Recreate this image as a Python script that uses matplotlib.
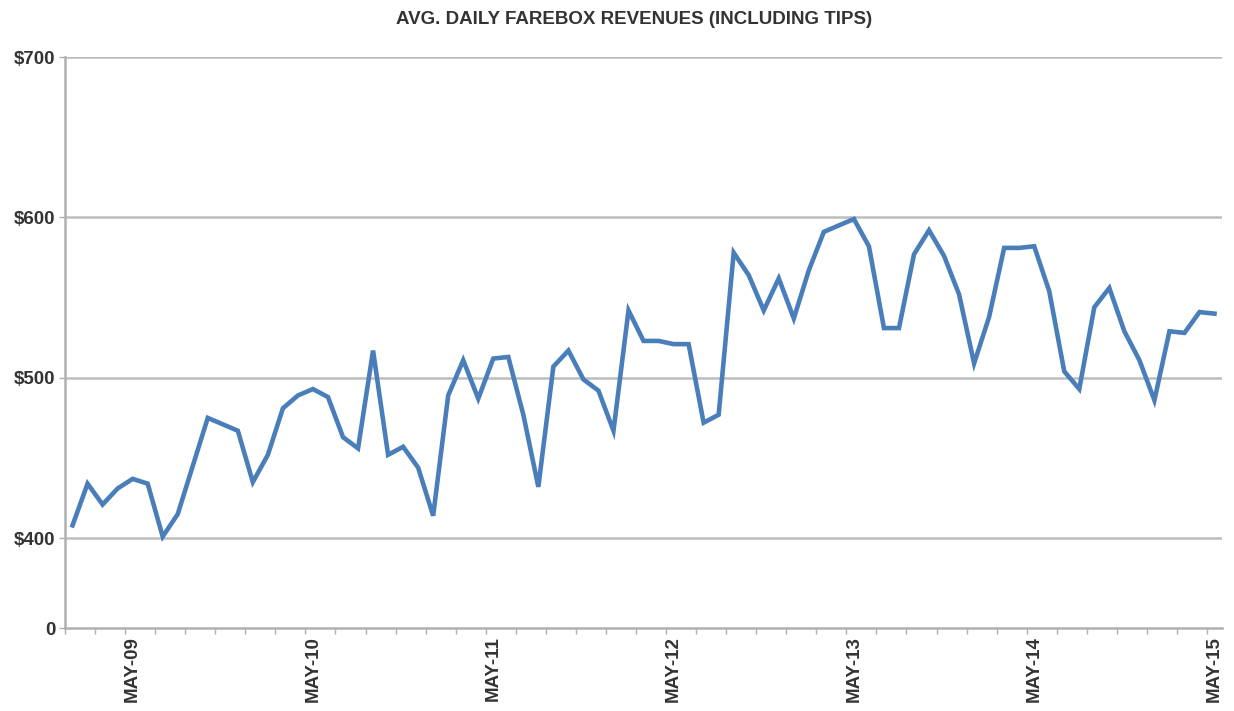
import matplotlib.pyplot as plt
import numpy as np

# monthly avg daily farebox revenue, Jan-09 .. May-15
revenue = [408, 434, 421, 431, 437, 434, 401, 415, 445, 475, 471, 467,
           435, 452, 481, 489, 493, 488, 463, 456, 517, 452, 457, 444,
           414, 489, 511, 487, 512, 513, 477, 432, 507, 517, 499, 492,
           467, 542, 523, 523, 521, 521, 472, 477, 578, 564, 542, 562,
           537, 567, 591, 595, 599, 582, 531, 531, 577, 592, 576, 552,
           509, 538, 581, 581, 582, 554, 504, 493, 544, 556, 529, 511,
           486, 529, 528, 541, 540]
year_labels = ['MAY-09', 'MAY-10', 'MAY-11', 'MAY-12', 'MAY-13', 'MAY-14', 'MAY-15']
ytick_vals = [344, 400, 500, 600, 700]
ytick_labels = ['0', '$400', '$500', '$600', '$700']

plt.rcParams['font.family'] = ['Liberation Sans', 'DejaVu Sans']

fig = plt.figure(figsize=(12.34, 7.11), dpi=100)
ax = fig.add_axes([0.0527, 0.1167, 0.9376, 0.8031])

x = np.arange(len(revenue))
ax.plot(x, revenue, color='#4a7ebb', linewidth=3.3, solid_joinstyle='miter', zorder=3)

ax.set_xlim(-0.5, 76.5)
ax.set_ylim(344, 700)

# gridlines
for v in ytick_vals[1:]:
    ax.axhline(v, color='#bdbdbd', linewidth=1.8, zorder=1)

ax.set_yticks(ytick_vals)
ax.set_yticklabels(ytick_labels)

# minor ticks every two months at category boundaries, labels every May
ax.set_xticks(np.arange(-0.5, 77, 2), minor=True)
ax.set_xticks(np.arange(4, 77, 12))
ax.set_xticklabels(year_labels, rotation=90)

ax.tick_params(axis='x', which='major', length=0, pad=6, labelsize=13.5, labelcolor='#333333')
ax.tick_params(axis='x', which='minor', length=4, width=1, color='#b0b0b0', direction='out')
ax.tick_params(axis='y', length=4, width=1, color='#b0b0b0', pad=3, labelsize=13.5, labelcolor='#333333')
for lbl in ax.get_xticklabels() + ax.get_yticklabels():
    lbl.set_fontweight('bold')

for s in ['top', 'right']:
    ax.spines[s].set_visible(False)
for s in ['left', 'bottom']:
    ax.spines[s].set_color('#b0b0b0')
    ax.spines[s].set_linewidth(1.8)

fig.text(0.514, 0.973, 'AVG. DAILY FAREBOX REVENUES (INCLUDING TIPS)', ha='center', va='center',
         fontsize=13.5, fontweight='bold', color='#333333')

plt.savefig('out.png', dpi=100)
